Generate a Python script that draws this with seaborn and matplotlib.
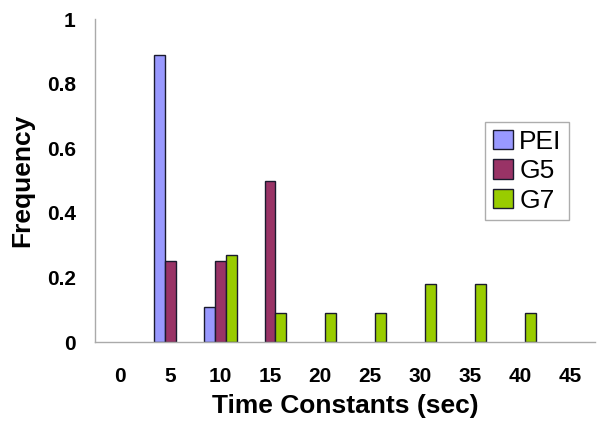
import numpy as np
import pandas as pd
import matplotlib
matplotlib.use("Agg")
import matplotlib.pyplot as plt
import seaborn as sns

# data
time_constants = ["0", "5", "10", "15", "20", "25", "30", "35", "40", "45"]
pei = [0, 0.89, 0.11, 0, 0, 0, 0, 0, 0, 0]
g5 = [0, 0.25, 0.25, 0.5, 0, 0, 0, 0, 0, 0]
g7 = [0, 0, 0.27, 0.09, 0.09, 0.09, 0.18, 0.18, 0.09, 0]
series_names = ["PEI", "G5", "G7"]
colors = ["#9999FF", "#993366", "#99CC00"]

rows = []
for name, vals in zip(series_names, [pei, g5, g7]):
    for t, v in zip(time_constants, vals):
        rows.append({"t": t, "freq": v if v > 0 else np.nan, "series": name})
data = pd.DataFrame(rows)

sns.set_style("white")
plt.rcParams["font.family"] = ["Liberation Sans", "DejaVu Sans"]
plt.rcParams["text.color"] = "black"
plt.rcParams["axes.labelcolor"] = "black"
plt.rcParams["xtick.color"] = "black"
plt.rcParams["ytick.color"] = "black"

fig = plt.figure(figsize=(6.02, 4.32), dpi=100)
ax = fig.add_axes([0.158, 0.208, 0.83, 0.748])

sns.barplot(data=data, x="t", y="freq", hue="series", order=time_constants,
            hue_order=series_names, palette=colors, width=0.66, saturation=1,
            edgecolor="#1a1a2e", linewidth=1.0, ax=ax, errorbar=None)

ax.set_ylim(0, 1)
ax.set_xlim(-0.5, len(time_constants) - 0.5)
ax.set_yticks([0, 0.2, 0.4, 0.6, 0.8, 1])
ax.set_yticklabels(["0", "0.2", "0.4", "0.6", "0.8", "1"])

# ticks at category boundaries, labels at centers
ax.set_xticks(np.arange(-0.5, len(time_constants), 1), minor=True)
ax.tick_params(axis="x", which="minor", length=8, color="#aaaaaa", width=1, direction="out")
ax.tick_params(axis="x", which="major", length=0, pad=18, labelsize=15)
ax.tick_params(axis="y", length=6, color="#aaaaaa", width=1, direction="out", labelsize=15, pad=8)
for lab in ax.get_xticklabels() + ax.get_yticklabels():
    lab.set_fontweight("bold")

for side in ["top", "right"]:
    ax.spines[side].set_visible(False)
for side in ["left", "bottom"]:
    ax.spines[side].set_color("#aaaaaa")
    ax.spines[side].set_linewidth(1)

ax.set_xlabel("Time Constants (sec)", fontsize=19, fontweight="bold", labelpad=6)
ax.set_ylabel("Frequency", fontsize=19, fontweight="bold", labelpad=9)

leg = ax.legend(loc="upper left", bbox_to_anchor=(0.78, 0.681), fontsize=19,
                frameon=True, fancybox=False, edgecolor="#999999",
                handlelength=0.75, handleheight=0.75, handletextpad=0.25,
                labelspacing=0.2, borderpad=0.3, borderaxespad=0)
leg.get_frame().set_linewidth(1)

fig.savefig("out.png", dpi=100)
